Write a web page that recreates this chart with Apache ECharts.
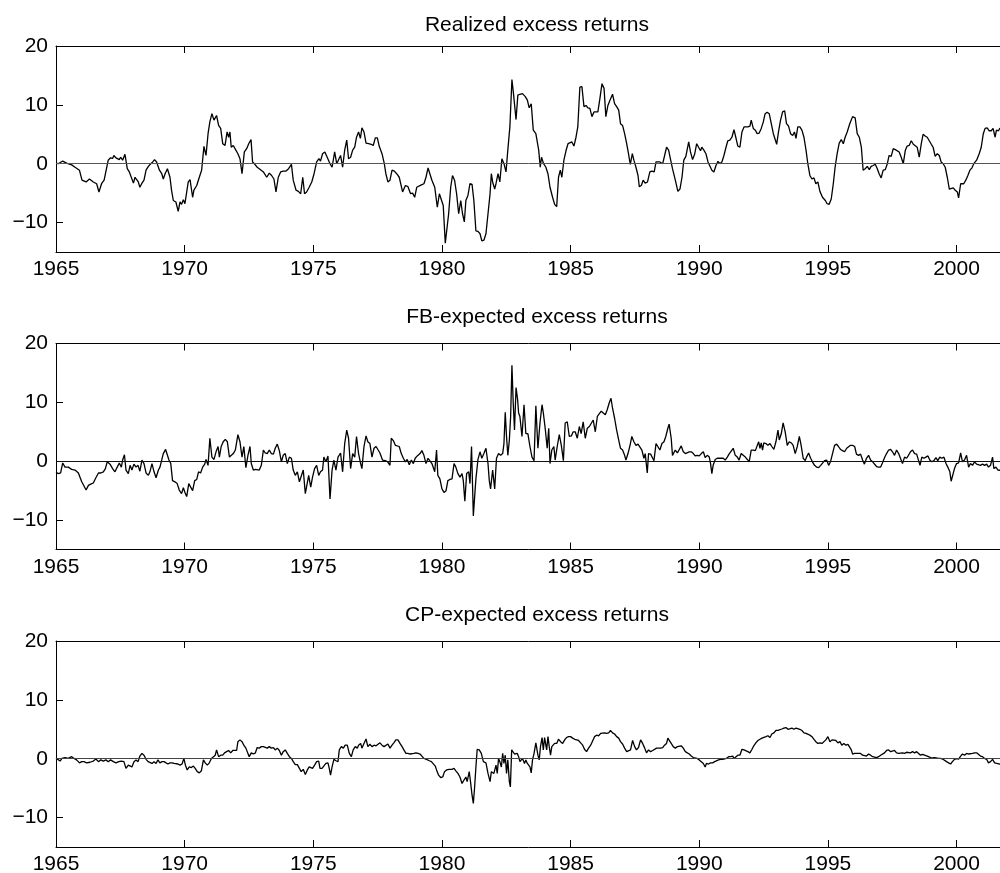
<!DOCTYPE html>
<html>
<head>
<meta charset="utf-8">
<title>Excess returns</title>
<script src="https://cdn.jsdelivr.net/npm/echarts@6/dist/echarts.min.js"></script>
<style>
  html, body { margin: 0; padding: 0; background: #fff; }
  #chart { width: 1000px; height: 873px; }
</style>
</head>
<body>
<div id="chart"></div>
<script>
// titles of the three panels
var panelTitles = ['Realized excess returns', 'FB-expected excess returns', 'CP-expected excess returns'];
// axis ticks
var yearTicks = [1965, 1970, 1975, 1980, 1985, 1990, 1995, 2000];
var valueTicks = [-10, 0, 10, 20];

// [year, excess return]
var realized = [[1965.0,0.1],[1965.09,0.0],[1965.26,0.45],[1965.41,0.1],[1965.61,-0.2],[1965.74,-0.6],[1965.91,-1.1],[1966.01,-2.8],[1966.17,-3.1],[1966.30,-2.6],[1966.45,-3.1],[1966.58,-3.4],[1966.67,-4.8],[1966.77,-3.4],[1966.87,-2.8],[1966.94,-2.7],[1967.03,0.6],[1967.12,1.0],[1967.20,0.9],[1967.25,1.4],[1967.33,1.0],[1967.38,1.25],[1967.46,0.7],[1967.51,1.1],[1967.59,0.6],[1967.68,1.6],[1967.77,-0.85],[1967.85,-1.4],[1967.91,-1.1],[1968.01,-3.3],[1968.07,-2.3],[1968.13,-2.6],[1968.20,-3.1],[1968.26,-4.0],[1968.33,-3.4],[1968.42,-2.8],[1968.50,-1.1],[1968.59,-0.45],[1968.68,0],[1968.76,0.3],[1968.83,0.7],[1968.91,0.3],[1969.02,-1.1],[1969.11,-1.7],[1969.17,-2.6],[1969.24,-1.7],[1969.33,-0.85],[1969.43,-2.3],[1969.49,-4.5],[1969.56,-6.25],[1969.66,-6.5],[1969.75,-8.1],[1969.82,-6.5],[1969.88,-6.9],[1969.95,-6.1],[1970.01,-6.8],[1970.08,-7.1],[1970.14,-3.1],[1970.21,-2.7],[1970.31,-5.7],[1970.36,-4.5],[1970.47,-3.7],[1970.57,-2.3],[1970.66,-1.1],[1970.75,2.95],[1970.83,1.4],[1970.91,5.1],[1970.98,7.1],[1971.06,8.5],[1971.14,7.4],[1971.24,8.2],[1971.32,6.5],[1971.40,6.0],[1971.48,3.4],[1971.57,3.1],[1971.65,5.4],[1971.71,4.5],[1971.76,5.4],[1971.81,2.8],[1971.89,3.1],[1971.99,2.3],[1972.07,1.7],[1972.15,0.85],[1972.23,-1.7],[1972.32,2.0],[1972.41,2.55],[1972.49,3.4],[1972.58,4.1],[1972.64,0.3],[1972.73,-0.1],[1972.82,-0.6],[1972.90,-0.85],[1972.97,-1.1],[1973.06,-1.4],[1973.13,-1.7],[1973.19,-2.3],[1973.29,-1.6],[1973.38,-2.0],[1973.47,-2.6],[1973.55,-4.8],[1973.64,-2.3],[1973.73,-1.4],[1973.83,-1.25],[1973.94,-1.25],[1974.04,-0.85],[1974.15,-0.1],[1974.22,-2.8],[1974.33,-4.5],[1974.42,-4.7],[1974.51,-5.1],[1974.59,-2.3],[1974.66,-5.1],[1974.74,-4.8],[1974.84,-4.0],[1974.94,-3.1],[1975.03,-1.7],[1975.13,0.3],[1975.22,0.85],[1975.28,0.45],[1975.36,1.7],[1975.45,2.0],[1975.54,1.1],[1975.65,0],[1975.73,-0.6],[1975.83,2.0],[1975.91,0],[1975.97,-0.3],
  [1976.06,1.4],[1976.14,-0.6],[1976.22,2.3],[1976.30,4.0],[1976.37,0.85],[1976.45,1.1],[1976.53,2.3],[1976.61,2.8],[1976.68,4.5],[1976.76,5.4],[1976.83,4.3],[1976.89,6.1],[1976.97,5.4],[1977.05,3.5],[1977.15,3.4],[1977.25,3.3],[1977.33,3.1],[1977.41,4.4],[1977.49,4.4],[1977.56,3.0],[1977.67,1.7],[1977.76,0],[1977.82,-1.7],[1977.90,-3.1],[1977.98,-2.8],[1978.06,-1.1],[1978.15,-1.25],[1978.24,-1.7],[1978.34,-2.3],[1978.47,-4.8],[1978.58,-3.7],[1978.68,-3.9],[1978.78,-5.1],[1978.86,-5.0],[1978.94,-5.7],[1979.02,-4.0],[1979.09,-3.7],[1979.20,-3.6],[1979.30,-3.4],[1979.38,-2.3],[1979.46,-0.7],[1979.53,-1.7],[1979.61,-2.8],[1979.72,-4.0],[1979.82,-7.4],[1979.90,-5.1],[1979.97,-4.8],[1980.05,-7.1],[1980.13,-13.5],[1980.18,-13.4],[1980.26,-8.5],[1980.34,-4.0],[1980.41,-2.0],[1980.49,-2.8],[1980.57,-5.1],[1980.65,-8.5],[1980.73,-6.25],[1980.80,-8.5],[1980.87,-9.9],[1980.93,-6.25],[1981.01,-5.4],[1981.09,-3.4],[1981.17,-3.5],[1981.24,-6.25],[1981.32,-11.4],[1981.40,-11.5],[1981.48,-11.9],[1981.55,-13.1],[1981.63,-13.0],[1981.71,-11.9],[1981.79,-8.5],[1981.87,-5.1],[1981.92,-1.7],[1981.97,-3.1],[1982.05,-4.3],[1982.10,-3.4],[1982.18,-1.7],[1982.25,-3.1],[1982.33,0.85],[1982.41,0],[1982.49,-1.4],[1982.56,2.3],[1982.64,6.25],[1982.72,14.3],[1982.78,11.9],[1982.88,7.5],[1982.95,11.65],[1983.03,11.8],[1983.13,11.9],[1983.24,11.4],[1983.32,10.8],[1983.39,9.5],[1983.47,10.2],[1983.55,5.7],[1983.65,5.1],[1983.76,2.3],[1983.82,-0.6],[1983.87,1.1],[1983.95,0],[1984.04,-0.6],[1984.12,-1.7],[1984.20,-4.0],[1984.30,-5.7],[1984.38,-6.9],[1984.46,-7.3],[1984.53,-2.3],[1984.60,-1.1],[1984.66,-2.3],[1984.74,0.6],[1984.82,2.2],[1984.90,3.4],[1984.97,3.7],[1985.05,3.7],[1985.13,3.0],[1985.21,4.5],[1985.28,6.25],[1985.36,13.0],[1985.44,13.1],[1985.52,9.7],[1985.60,9.9],[1985.67,9.5],[1985.75,9.4],[1985.83,8.0],[1985.91,8.8],[1985.98,8.7],[1986.06,8.8],[1986.14,11.1],[1986.22,13.6],[1986.30,12.8],[1986.37,8.0],[1986.45,9.9],[1986.53,10.8],[1986.63,11.8],[1986.71,10.2],[1986.79,9.7],[1986.87,9.1],[1986.94,6.8],[1987.02,6.5],[1987.10,5.1],[1987.18,3.4],[1987.25,1.7],[1987.32,-0.1],[1987.40,1.7],[1987.46,0.6],[1987.54,-0.6],[1987.62,-2.0],[1987.67,-3.9],[1987.75,-3.7],[1987.82,-2.8],[1987.90,-3.3],[1987.99,-3.1],[1988.08,-1.4],[1988.16,-1.25],[1988.25,-1.4],[1988.32,0.3],[1988.39,0],
  [1988.47,0.3],[1988.58,0],[1988.65,0],[1988.73,2.8],[1988.81,2.3],[1988.89,0.6],[1988.96,-0.85],[1989.07,-2.8],[1989.17,-4.7],[1989.25,-4.3],[1989.33,-2.3],[1989.40,0.6],[1989.48,1.25],[1989.59,3.7],[1989.66,2.0],[1989.74,0.7],[1989.82,1.6],[1989.90,3.4],[1989.97,3.5],[1990.05,2.2],[1990.10,2.8],[1990.18,2.3],[1990.26,1.7],[1990.34,0.3],[1990.41,0.2],[1990.49,-1.1],[1990.57,-1.4],[1990.65,-0.3],[1990.73,0.4],[1990.80,0],[1990.88,0.3],[1990.96,1.4],[1991.04,2.8],[1991.11,3.9],[1991.19,4.0],[1991.27,4.5],[1991.35,5.8],[1991.42,4.5],[1991.50,3.0],[1991.58,2.8],[1991.66,5.4],[1991.74,6.25],[1991.81,6.4],[1991.89,6.25],[1991.97,6.4],[1992.02,7.4],[1992.10,6.0],[1992.18,5.7],[1992.25,5.1],[1992.33,5.2],[1992.41,6.0],[1992.49,7.1],[1992.56,8.5],[1992.64,8.75],[1992.72,8.5],[1992.80,6.8],[1992.88,5.1],[1993.01,3.3],[1993.08,5.4],[1993.16,7.4],[1993.24,8.8],[1993.32,9.0],[1993.39,6.8],[1993.47,6.4],[1993.55,5.1],[1993.63,4.8],[1993.70,5.4],[1993.76,4.3],[1993.83,6.25],[1993.91,6.25],[1993.99,5.7],[1994.07,4.5],[1994.15,2.3],[1994.22,0],[1994.30,-2.0],[1994.38,-2.6],[1994.46,-2.4],[1994.53,-3.4],[1994.61,-3.1],[1994.69,-4.7],[1994.79,-5.7],[1994.90,-6.25],[1994.97,-6.8],[1995.05,-6.9],[1995.13,-6.0],[1995.21,-3.4],[1995.28,-0.6],[1995.36,1.7],[1995.44,3.5],[1995.52,4.1],[1995.60,3.4],[1995.67,4.5],[1995.75,5.4],[1995.85,6.8],[1995.96,8.0],[1996.06,7.8],[1996.14,5.1],[1996.22,4.5],[1996.30,2.8],[1996.37,-1.1],[1996.45,-0.85],[1996.53,-0.45],[1996.61,-1.0],[1996.68,-0.45],[1996.76,-0.3],[1996.84,-0.1],[1996.92,-0.85],[1996.99,-1.7],[1997.07,-2.4],[1997.15,-1.1],[1997.23,-1.0],[1997.31,0],[1997.38,1.4],[1997.46,1.25],[1997.54,2.55],[1997.62,2.4],[1997.69,2.55],[1997.77,2.0],[1997.85,1.1],[1997.93,0],[1998.01,2.3],[1998.08,3.0],[1998.16,3.1],[1998.24,3.9],[1998.32,3.3],[1998.39,3.3],[1998.47,2.8],[1998.55,1.1],[1998.63,3.4],[1998.70,5.0],[1998.78,4.7],[1998.86,4.5],[1998.94,3.9],[1999.02,3.3],[1999.09,2.8],[1999.17,1.25],[1999.25,1.7],[1999.33,1.4],[1999.40,0.3],[1999.48,0],[1999.56,-0.6],[1999.64,-2.3],[1999.72,-4.3],[1999.79,-4.4],[1999.87,-4.1],[1999.95,-4.5],[2000.03,-4.8],[2000.08,-5.8],[2000.16,-3.4],[2000.21,-3.2],[2000.28,-3.4],[2000.36,-2.8],[2000.44,-2.0],[2000.52,-1.1],[2000.60,-0.7],[2000.67,0],[2000.78,0.6],[2000.88,1.7],[2000.96,2.8],[2001.04,5.1],[2001.11,6.0],[2001.19,6.1],[2001.27,5.6],[2001.35,5.6],[2001.42,6.0],[2001.50,4.5],[2001.55,5.7],[2001.63,5.6],[2001.68,6.0],[2001.83,5.8]];

var fbExpected = [[1965.0,-1.9],[1965.09,-2.1],[1965.18,-2.0],[1965.26,-0.3],[1965.35,-1.0],[1965.48,-1.0],[1965.61,-1.4],[1965.74,-1.5],[1965.87,-2.0],[1966.00,-3.5],[1966.17,-4.9],[1966.26,-4.1],[1966.35,-3.9],[1966.45,-3.7],[1966.55,-2.8],[1966.65,-2.0],[1966.74,-2.0],[1966.84,-1.8],[1966.92,-1.25],[1966.99,-0.1],[1967.10,-0.5],[1967.20,-1.25],[1967.29,-1.8],[1967.38,-1.0],[1967.46,-0.3],[1967.54,-1.0],[1967.59,0.2],[1967.66,1.1],[1967.72,-1.5],[1967.81,-2.1],[1967.88,-0.7],[1967.95,-1.5],[1968.03,-0.5],[1968.11,-1.0],[1968.19,-0.7],[1968.26,-1.7],[1968.34,0.2],[1968.42,-0.4],[1968.50,-2.0],[1968.59,-2.4],[1968.65,-1.8],[1968.73,-0.4],[1968.81,-1.8],[1968.89,-2.8],[1968.98,-1.5],[1969.04,-1.0],[1969.11,-0.7],[1969.17,1.3],[1969.26,2.0],[1969.33,2.1],[1969.39,0.2],[1969.46,-0.4],[1969.53,-3.3],[1969.62,-3.5],[1969.71,-3.8],[1969.79,-4.9],[1969.88,-5.5],[1969.95,-4.5],[1970.01,-5.3],[1970.08,-6.0],[1970.16,-3.8],[1970.23,-4.1],[1970.31,-5.0],[1970.39,-3.3],[1970.47,-3.1],[1970.54,-1.8],[1970.62,-2.0],[1970.70,-1.0],[1970.78,-0.5],[1970.83,0.3],[1970.91,-0.7],[1970.98,3.9],[1971.06,0.7],[1971.14,0.3],[1971.22,1.6],[1971.30,2.5],[1971.35,0.7],[1971.42,2.5],[1971.50,3.3],[1971.58,3.7],[1971.66,3.3],[1971.74,0.7],[1971.81,1.0],[1971.89,1.3],[1971.97,1.9],[1972.07,4.5],[1972.15,3.3],[1972.23,0.7],[1972.30,2.5],[1972.38,-1.1],[1972.46,1.0],[1972.54,2.5],[1972.59,-0.4],[1972.67,-1.5],[1972.75,-1.4],[1972.82,-1.25],[1972.90,-1.5],[1972.98,-0.7],[1973.06,1.9],[1973.13,1.4],[1973.21,1.3],[1973.29,1.9],[1973.37,1.3],[1973.45,1.2],[1973.52,2.2],[1973.60,2.9],[1973.68,1.8],[1973.76,-0.1],[1973.83,1.0],[1973.91,1.3],[1973.99,-0.4],[1974.07,0.7],[1974.15,0.5],[1974.22,-1.5],[1974.30,-2.4],[1974.38,-1.8],[1974.46,-3.5],[1974.53,-3.5],[1974.61,-1.5],[1974.69,-5.5],[1974.74,-5.8],[1974.82,-2.4],[1974.90,-4.4],[1974.97,-2.7],[1975.05,-1.25],[1975.13,-0.7],[1975.21,-2.4],[1975.28,-1.8],[1975.36,-1.5],[1975.41,0.7],[1975.49,-0.1],[1975.57,0.9],[1975.65,-6.4],[1975.73,-1.5],[1975.80,0.2],[1975.88,-1.5],[1975.96,0.7],
  [1976.06,1.4],[1976.14,-1.8],[1976.22,3.0],[1976.30,5.3],[1976.37,3.9],[1976.45,-1.25],[1976.53,1.3],[1976.61,0.7],[1976.68,4.2],[1976.76,1.3],[1976.84,-0.4],[1976.89,-1.25],[1976.97,2.5],[1977.05,4.3],[1977.12,3.3],[1977.20,3.0],[1977.28,0.7],[1977.36,2.2],[1977.44,2.5],[1977.51,2.6],[1977.59,1.4],[1977.69,0.2],[1977.80,0.1],[1977.89,-0.1],[1977.98,-0.7],[1978.03,3.9],[1978.11,3.5],[1978.19,2.7],[1978.26,2.5],[1978.34,2.5],[1978.42,1.3],[1978.50,0.5],[1978.58,-0.1],[1978.65,0.3],[1978.73,-0.6],[1978.81,0.2],[1978.89,-0.4],[1978.96,0.5],[1979.04,0.9],[1979.15,1.3],[1979.22,1.8],[1979.30,1.0],[1979.38,-0.4],[1979.46,0.5],[1979.53,0.2],[1979.61,-0.4],[1979.72,-1.8],[1979.79,1.9],[1979.84,-2.4],[1979.92,-3.0],[1980.00,-4.7],[1980.08,-5.3],[1980.16,-5.0],[1980.23,-3.3],[1980.31,-3.1],[1980.39,-3.0],[1980.47,-0.4],[1980.54,-1.0],[1980.62,-2.1],[1980.70,-2.7],[1980.78,-2.1],[1980.83,-3.3],[1980.89,-6.8],[1980.96,-2.1],[1981.04,-1.8],[1981.09,-3.8],[1981.15,2.5],[1981.22,-9.3],[1981.27,-6.1],[1981.32,-3.0],[1981.40,0.3],[1981.48,1.6],[1981.55,0.5],[1981.63,1.3],[1981.71,2.2],[1981.79,-0.4],[1981.84,-3.3],[1981.89,-4.7],[1981.97,-1.5],[1982.05,-4.7],[1982.12,0.5],[1982.20,1.3],[1982.28,1.0],[1982.36,1.3],[1982.41,3.0],[1982.46,8.3],[1982.51,4.2],[1982.56,1.0],[1982.62,3.6],[1982.67,7.6],[1982.72,16.3],[1982.77,9.9],[1982.82,5.3],[1982.88,12.5],[1982.94,10.5],[1982.98,8.2],[1983.03,7.6],[1983.11,4.2],[1983.19,9.6],[1983.26,4.7],[1983.34,4.7],[1983.42,2.5],[1983.50,0.7],[1983.58,0.1],[1983.65,9.4],[1983.73,2.2],[1983.81,6.5],[1983.89,9.6],[1983.94,8.2],[1984.02,5.3],[1984.09,2.2],[1984.15,5.6],[1984.20,-0.4],[1984.27,1.9],[1984.35,2.5],[1984.40,0.2],[1984.48,2.5],[1984.56,4.5],[1984.64,2.7],[1984.72,0.1],[1984.79,6.5],[1984.87,6.7],[1984.95,4.2],[1985.03,4.3],[1985.10,5.0],[1985.18,5.0],[1985.26,3.9],[1985.34,5.9],[1985.41,4.7],[1985.49,6.7],[1985.57,3.9],[1985.65,5.6],[1985.73,5.9],[1985.80,5.9],[1985.88,7.0],[1985.96,5.0],[1986.04,7.6],[1986.11,7.9],[1986.19,8.5],[1986.27,8.2],[1986.35,7.9],[1986.42,8.7],[1986.50,9.9],[1986.57,10.7],[1986.63,9.0],[1986.71,7.3],[1986.79,5.3],[1986.87,3.6],[1986.94,2.2],[1987.02,1.9],[1987.10,1.0],[1987.15,0.2],[1987.23,1.3],[1987.31,2.7],[1987.38,4.2],[1987.46,3.3],[1987.54,2.7],[1987.62,2.9],[1987.69,2.9],[1987.77,1.9],[1987.85,0.5],[1987.90,1.3],[1987.98,-2.0],[1988.03,1.3],[1988.11,1.2],[1988.19,0.5],[1988.24,0.1],[1988.32,3.0],[1988.39,2.5],[1988.47,1.9],[1988.55,3.0],[1988.63,3.3],[1988.70,4.2],
  [1988.78,5.6],[1988.83,6.3],[1988.91,3.9],[1988.96,1.0],[1989.07,1.9],[1989.15,1.4],[1989.22,1.2],[1989.30,2.6],[1989.38,1.6],[1989.46,1.3],[1989.53,1.4],[1989.61,1.6],[1989.69,1.6],[1989.77,1.3],[1989.84,0.9],[1989.92,1.0],[1990.00,0.9],[1990.08,1.3],[1990.16,1.6],[1990.23,0.6],[1990.31,1.0],[1990.39,0.7],[1990.44,-0.4],[1990.49,-2.1],[1990.54,-0.7],[1990.62,0.3],[1990.70,0.5],[1990.78,0.5],[1990.85,0.2],[1990.93,0.5],[1991.01,0.2],[1991.09,0.7],[1991.17,1.3],[1991.24,1.6],[1991.32,2.2],[1991.40,1.0],[1991.48,0.7],[1991.55,0.2],[1991.63,1.3],[1991.71,1.0],[1991.79,0.7],[1991.87,0.3],[1991.94,-0.1],[1992.02,1.9],[1992.10,1.9],[1992.18,1.8],[1992.25,2.0],[1992.31,3.3],[1992.36,2.2],[1992.41,3.1],[1992.46,1.9],[1992.51,3.1],[1992.59,3.0],[1992.67,2.7],[1992.75,3.0],[1992.82,2.5],[1992.90,2.0],[1992.98,3.3],[1993.06,5.3],[1993.11,3.6],[1993.19,4.7],[1993.26,6.5],[1993.34,5.0],[1993.42,2.7],[1993.50,3.3],[1993.58,3.1],[1993.65,2.7],[1993.73,1.3],[1993.81,2.5],[1993.89,4.2],[1993.96,2.7],[1994.04,0.5],[1994.12,0.1],[1994.17,0.7],[1994.25,1.4],[1994.33,0.5],[1994.40,-0.1],[1994.48,-0.7],[1994.56,-1.0],[1994.64,-1.1],[1994.72,-0.7],[1994.79,-0.4],[1994.87,0.1],[1994.95,0.2],[1995.03,-0.7],[1995.10,-0.1],[1995.18,1.3],[1995.26,2.7],[1995.34,2.9],[1995.41,2.5],[1995.49,2.0],[1995.57,1.8],[1995.65,1.6],[1995.73,2.2],[1995.80,2.5],[1995.88,2.7],[1995.96,2.7],[1996.04,2.5],[1996.11,1.2],[1996.19,1.0],[1996.27,1.2],[1996.35,0.2],[1996.42,-0.5],[1996.50,0.5],[1996.58,1.0],[1996.66,0.2],[1996.74,-0.1],[1996.81,-0.4],[1996.89,-0.9],[1996.97,-1.0],[1997.05,-1.0],[1997.12,-0.3],[1997.20,0.6],[1997.28,1.3],[1997.36,1.9],[1997.44,2.0],[1997.51,1.6],[1997.59,1.0],[1997.67,1.9],[1997.75,1.3],[1997.82,0.5],[1997.90,-0.4],[1997.98,0.7],[1998.06,0.5],[1998.13,1.0],[1998.21,1.6],[1998.29,1.9],[1998.37,1.3],[1998.45,1.2],[1998.52,1.0],[1998.58,-0.7],[1998.65,0.7],[1998.73,0.5],[1998.81,0.7],[1998.89,0.9],[1998.96,0.2],[1999.04,-0.1],[1999.12,0.1],[1999.20,0.6],[1999.27,0.1],[1999.35,0.7],[1999.43,0.5],[1999.51,0.7],[1999.59,-0.4],[1999.66,-1.0],[1999.74,-1.8],[1999.79,-3.4],[1999.84,-3.3],[1999.92,-1.25],[2000.00,-0.4],[2000.08,-0.3],[2000.16,1.4],[2000.23,-0.1],[2000.31,0.2],[2000.39,1.0],[2000.47,-1.0],[2000.54,-0.4],[2000.62,-0.7],[2000.70,-0.1],[2000.78,-0.5],[2000.85,-0.4],[2000.93,-0.7],[2001.01,-0.5],[2001.09,-0.7],[2001.17,-0.5],[2001.24,-1.0],[2001.32,-0.7],[2001.40,0.7],[2001.45,-1.25],[2001.53,-1.0],[2001.61,-1.5],[2001.68,-1.8],[2001.83,-1.6]];

var cpExpected = [[1965.0,0.1],[1965.05,0],[1965.16,-0.4],[1965.23,0.05],[1965.35,0.2],[1965.48,0.05],[1965.61,0.35],[1965.70,0.05],[1965.80,-0.2],[1965.91,-0.7],[1966.00,-0.5],[1966.09,-0.5],[1966.19,-0.7],[1966.32,-0.6],[1966.45,-0.4],[1966.55,-0.05],[1966.65,-0.5],[1966.74,-0.2],[1966.84,-0.4],[1966.94,-0.2],[1967.03,-0.5],[1967.12,-0.2],[1967.23,-0.5],[1967.33,-0.7],[1967.44,-0.5],[1967.54,-0.4],[1967.64,-0.5],[1967.72,-1.65],[1967.81,-1.1],[1967.88,-0.8],[1967.95,-1.4],[1968.03,-0.5],[1968.11,-0.2],[1968.19,-0.5],[1968.26,0.45],[1968.34,0.9],[1968.42,0.6],[1968.50,-0.1],[1968.58,-0.5],[1968.65,-0.5],[1968.73,-0.8],[1968.81,-0.5],[1968.89,-0.8],[1968.96,-0.2],[1969.04,-0.7],[1969.12,-0.5],[1969.20,-0.5],[1969.27,-0.8],[1969.35,-0.9],[1969.43,-0.7],[1969.51,-0.7],[1969.59,-0.8],[1969.66,-0.9],[1969.74,-0.9],[1969.82,-1.1],[1969.90,-0.9],[1969.97,0.05],[1970.03,-1.1],[1970.10,-1.9],[1970.18,-1.4],[1970.26,-1.5],[1970.34,-1.25],[1970.41,-1.65],[1970.49,-2.2],[1970.57,-2.4],[1970.65,-2.05],[1970.73,-0.2],[1970.80,-0.7],[1970.88,-1.1],[1970.96,-0.7],[1971.04,0.05],[1971.11,0.05],[1971.19,0.6],[1971.24,1.5],[1971.32,0.35],[1971.40,0.6],[1971.48,0.6],[1971.55,1.0],[1971.63,1.2],[1971.71,1.4],[1971.79,1.0],[1971.87,1.4],[1971.94,1.2],[1972.02,1.4],[1972.07,2.9],[1972.15,3.2],[1972.23,2.9],[1972.30,2.3],[1972.38,1.8],[1972.46,0.9],[1972.51,0.35],[1972.59,1.0],[1972.67,0.8],[1972.75,1.0],[1972.82,1.9],[1972.90,1.8],[1972.98,2.05],[1973.06,2.05],[1973.13,2.3],[1973.21,1.8],[1973.29,2.05],[1973.37,1.8],[1973.45,1.9],[1973.52,1.5],[1973.60,1.8],[1973.68,1.4],[1973.76,0.6],[1973.83,1.2],[1973.91,1.5],[1973.99,0.9],[1974.07,0.35],[1974.15,0.05],[1974.22,-0.5],[1974.30,-1.0],[1974.38,-1.0],[1974.46,-1.65],[1974.53,-2.2],[1974.61,-1.8],[1974.69,-2.7],[1974.77,-1.9],[1974.84,-1.4],[1974.90,-1.25],[1974.97,-1.65],[1975.05,-1.1],[1975.13,-0.5],[1975.21,-0.4],[1975.26,-1.65],[1975.34,-1.65],[1975.41,-1.4],[1975.49,-0.8],[1975.57,-0.7],[1975.62,-1.65],[1975.67,-2.8],[1975.73,-1.4],[1975.80,-0.1],[1975.88,-0.35],[1975.96,-0.5],
  [1976.01,1.5],[1976.09,2.05],[1976.17,1.8],[1976.24,2.3],[1976.32,2.3],[1976.40,0.9],[1976.48,0.35],[1976.55,1.5],[1976.63,2.05],[1976.71,1.8],[1976.76,2.3],[1976.84,2.6],[1976.89,1.8],[1976.97,2.6],[1977.05,3.35],[1977.12,2.05],[1977.20,2.45],[1977.28,2.05],[1977.36,2.3],[1977.44,2.2],[1977.51,2.05],[1977.59,2.7],[1977.67,2.3],[1977.75,2.05],[1977.82,2.2],[1977.90,2.5],[1977.98,1.8],[1978.06,2.3],[1978.13,2.7],[1978.21,3.2],[1978.29,3.2],[1978.37,2.6],[1978.45,2.05],[1978.52,1.5],[1978.60,0.9],[1978.68,0.9],[1978.76,0.8],[1978.83,1.0],[1978.91,0.9],[1978.99,1.0],[1979.07,0.9],[1979.15,0.8],[1979.22,0.45],[1979.30,0.05],[1979.40,-0.1],[1979.51,-0.35],[1979.59,-0.5],[1979.66,-0.7],[1979.74,-1.25],[1979.79,-1.9],[1979.87,-2.8],[1979.95,-3.2],[1980.03,-3.1],[1980.10,-2.2],[1980.18,-1.9],[1980.28,-1.8],[1980.39,-1.8],[1980.47,-1.65],[1980.54,-2.05],[1980.62,-2.5],[1980.70,-3.1],[1980.78,-4.2],[1980.85,-3.9],[1980.93,-3.1],[1980.98,-3.9],[1981.06,-2.2],[1981.11,-3.9],[1981.17,-6.2],[1981.22,-7.6],[1981.27,-4.8],[1981.32,-1.4],[1981.37,1.6],[1981.45,1.5],[1981.53,0.9],[1981.61,-0.5],[1981.66,-0.5],[1981.71,-0.7],[1981.79,-2.5],[1981.87,-3.9],[1981.92,-2.2],[1981.97,-1.9],[1982.02,-2.5],[1982.10,-1.1],[1982.15,-2.5],[1982.20,0.05],[1982.25,-0.5],[1982.31,-1.4],[1982.36,0.9],[1982.41,-0.8],[1982.46,0.6],[1982.51,-2.5],[1982.56,-0.2],[1982.62,-3.9],[1982.66,-4.8],[1982.71,1.5],[1982.77,1.5],[1982.82,0.8],[1982.88,0.6],[1982.93,0.9],[1982.98,0.35],[1983.03,-0.5],[1983.08,-0.2],[1983.13,0.05],[1983.21,-0.8],[1983.26,-0.2],[1983.32,-0.8],[1983.37,-0.5],[1983.42,-1.4],[1983.47,-2.4],[1983.52,-0.2],[1983.58,0.9],[1983.65,2.7],[1983.73,0.6],[1983.78,-0.2],[1983.83,2.05],[1983.89,3.6],[1983.94,1.5],[1983.99,3.6],[1984.07,1.5],[1984.12,3.75],[1984.17,2.05],[1984.22,0.6],[1984.27,2.05],[1984.33,2.3],[1984.38,2.6],[1984.46,2.6],[1984.53,3.3],[1984.61,2.9],[1984.69,2.6],[1984.77,3.2],[1984.84,3.6],[1984.92,3.75],[1985.00,3.75],[1985.08,3.5],[1985.16,3.3],[1985.23,3.2],[1985.31,3.1],[1985.39,2.7],[1985.47,2.3],[1985.54,1.6],[1985.62,1.2],[1985.70,1.8],[1985.78,2.3],[1985.85,2.3],[1985.93,3.75],[1986.01,4.0],[1986.09,3.9],[1986.17,4.3],[1986.24,4.3],[1986.32,4.4],[1986.40,4.3],[1986.48,4.4],[1986.55,4.8],[1986.63,4.4],[1986.71,4.2],[1986.79,3.75],[1986.87,3.5],[1986.94,2.9],[1987.02,2.5],[1987.10,1.8],[1987.18,1.2],[1987.25,1.2],[1987.33,1.5],[1987.41,3.1],[1987.49,2.05],[1987.56,1.5],[1987.64,1.9],[1987.72,3.2],[1987.80,2.6],[1987.88,1.8],[1987.95,1.0],[1988.03,1.5],[1988.11,1.2],[1988.19,1.4],[1988.26,1.6],[1988.34,1.8],[1988.42,1.8],[1988.50,1.8],[1988.58,1.9],[1988.65,2.3],[1988.73,2.6],[1988.78,3.5],
  [1988.83,3.3],[1988.91,2.6],[1988.99,2.05],[1989.07,1.8],[1989.15,2.05],[1989.22,2.3],[1989.30,2.2],[1989.38,1.8],[1989.46,1.2],[1989.53,1.0],[1989.61,0.8],[1989.69,0.45],[1989.77,0.2],[1989.84,0.35],[1989.92,0.05],[1990.00,-0.2],[1990.08,-0.5],[1990.16,-0.8],[1990.23,-1.4],[1990.28,-0.8],[1990.36,-0.9],[1990.44,-0.7],[1990.52,-0.7],[1990.60,-0.5],[1990.67,-0.5],[1990.75,-0.2],[1990.83,-0.1],[1990.91,-0.1],[1990.98,0.05],[1991.06,0.05],[1991.14,0.35],[1991.22,0.35],[1991.30,0.45],[1991.35,0.05],[1991.42,0.35],[1991.50,0.6],[1991.58,0.6],[1991.66,1.6],[1991.74,1.5],[1991.81,1.6],[1991.89,1.2],[1991.97,1.0],[1992.05,1.6],[1992.12,2.2],[1992.20,2.7],[1992.28,3.1],[1992.36,3.3],[1992.44,3.5],[1992.51,3.6],[1992.59,3.75],[1992.67,3.9],[1992.75,3.6],[1992.82,4.2],[1992.90,4.4],[1992.98,4.8],[1993.06,4.8],[1993.13,4.9],[1993.21,5.05],[1993.29,5.2],[1993.37,5.3],[1993.45,5.0],[1993.52,5.0],[1993.60,5.2],[1993.68,5.0],[1993.76,5.2],[1993.83,5.35],[1993.91,5.0],[1993.99,4.8],[1994.07,4.4],[1994.15,4.3],[1994.22,4.2],[1994.30,4.0],[1994.38,3.75],[1994.46,3.3],[1994.53,2.9],[1994.61,2.6],[1994.69,2.7],[1994.77,2.6],[1994.84,2.9],[1994.92,3.2],[1995.00,3.75],[1995.08,2.9],[1995.16,3.2],[1995.23,2.9],[1995.31,3.1],[1995.39,2.7],[1995.47,2.9],[1995.54,2.3],[1995.62,2.6],[1995.70,2.3],[1995.78,2.45],[1995.85,2.3],[1995.91,1.5],[1995.96,0.8],[1996.04,0.9],[1996.11,0.8],[1996.19,0.9],[1996.27,0.9],[1996.35,0.6],[1996.42,0.45],[1996.50,0.45],[1996.58,0.8],[1996.66,0.6],[1996.74,0.35],[1996.81,0.35],[1996.89,0.2],[1996.97,0.35],[1997.05,0.6],[1997.12,0.9],[1997.20,1.0],[1997.28,1.4],[1997.36,1.5],[1997.44,1.2],[1997.51,1.0],[1997.59,1.4],[1997.67,1.0],[1997.75,0.9],[1997.82,0.6],[1997.90,1.0],[1997.98,0.9],[1998.06,1.1],[1998.13,1.2],[1998.21,1.0],[1998.29,1.2],[1998.37,1.0],[1998.45,1.2],[1998.52,0.9],[1998.60,0.6],[1998.68,0.75],[1998.76,0.6],[1998.83,0.45],[1998.91,0.35],[1998.99,0.2],[1999.07,0.15],[1999.15,0.2],[1999.22,0.15],[1999.30,0.05],[1999.38,0.05],[1999.46,-0.05],[1999.53,-0.2],[1999.61,-0.5],[1999.69,-0.7],[1999.77,-0.9],[1999.84,-0.5],[1999.92,-0.1],[2000.00,0],[2000.08,-0.05],[2000.16,0.45],[2000.23,0.8],[2000.31,0.6],[2000.39,0.9],[2000.47,0.8],[2000.54,1.0],[2000.62,0.9],[2000.70,1.0],[2000.78,1.0],[2000.85,0.8],[2000.93,0.45],[2001.01,0.35],[2001.09,0.05],[2001.17,-0.1],[2001.24,-0.7],[2001.32,-0.5],[2001.40,-0.1],[2001.48,-0.7],[2001.55,-0.9],[2001.68,-0.9],[2001.83,-0.9]];

var panelData = [realized, fbExpected, cpExpected];

// layout (pixels)
var panelTops = [46, 343.5, 641];
var titleTops = [10, 302, 600];
var zeroLineColors = ['#555', '#111', '#444'];
var plotLeft = 56, plotWidth = 952, plotHeight = 206;
var fontFamily = '"Liberation Sans", Arial, Helvetica, sans-serif';

function valueLabel(v) {
	return v < 0 ? '\u2212' + Math.abs(v) : String(v);
}
function yearLabel(v) {
	return String(v);
}

var grids = [], xAxes = [], yAxes = [], titles = [], series = [];
for (var i = 0; i < 3; i++) {
	grids.push({
		left: plotLeft, top: panelTops[i], width: plotWidth, height: plotHeight,
		containLabel: false, outerBoundsMode: 'none'
	});
	titles.push({
		text: panelTitles[i], left: 532, top: titleTops[i], textAlign: 'center',
		textStyle: { fontFamily: fontFamily, fontSize: 21, fontWeight: 'normal', color: '#000' }
	});
	// bottom axis with year labels
	xAxes.push({
		type: 'value', gridIndex: i, position: 'bottom', min: 1965, max: 2002,
		axisLine: { show: true, onZero: false, lineStyle: { color: '#000', width: 1 } },
		axisTick: { show: true, inside: true, length: 7, customValues: yearTicks, lineStyle: { color: '#000' } },
		axisLabel: { show: true, customValues: yearTicks, margin: 7, color: '#000', fontSize: 21,
			fontFamily: fontFamily, formatter: yearLabel },
		splitLine: { show: false }
	});
	// top frame with ticks only
	xAxes.push({
		type: 'value', gridIndex: i, position: 'top', min: 1965, max: 2002,
		axisLine: { show: true, onZero: false, lineStyle: { color: '#000', width: 1 } },
		axisTick: { show: true, inside: true, length: 7, customValues: yearTicks, lineStyle: { color: '#000' } },
		axisLabel: { show: false },
		splitLine: { show: false }
	});
	yAxes.push({
		type: 'value', gridIndex: i, min: -15, max: 20,
		axisLine: { show: true, onZero: false, lineStyle: { color: '#000', width: 1 } },
		axisTick: { show: true, inside: true, length: 7, customValues: valueTicks, lineStyle: { color: '#000' } },
		axisLabel: { show: true, customValues: valueTicks, margin: 8, color: '#000', fontSize: 21,
			fontFamily: fontFamily, formatter: valueLabel },
		splitLine: { show: false }
	});
	series.push({
		type: 'line', xAxisIndex: i * 2, yAxisIndex: i, data: panelData[i],
		showSymbol: false, symbol: 'none', clip: true, silent: true,
		lineStyle: { color: '#000', width: 1.3 },
		markLine: {
			silent: true, symbol: ['none', 'none'], label: { show: false },
			lineStyle: { color: zeroLineColors[i], width: 1, type: 'solid' },
			data: [{ yAxis: 0 }]
		}
	});
}

var myChart = echarts.init(document.getElementById('chart'), null, { renderer: 'canvas' });
myChart.setOption({
	animation: false,
	backgroundColor: '#fff',
	title: titles,
	grid: grids,
	xAxis: xAxes,
	yAxis: yAxes,
	series: series
});
</script>
</body>
</html>
